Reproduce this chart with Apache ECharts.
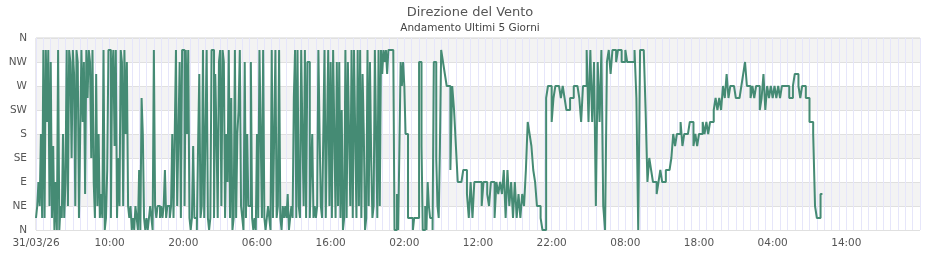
<!DOCTYPE html>
<html>
<head>
<meta charset="utf-8">
<script src="https://cdn.jsdelivr.net/npm/echarts@6/dist/echarts.min.js"></script>
<style>
html,body{margin:0;padding:0;background:#fff;}
#chart{width:940px;height:260px;}
</style>
</head>
<body>
<div id="chart"></div>
<script>
// Wind direction in compass points (0 = N, 2 = NE, 4 = E ... 16 = N)
var startDateLabel = '31/03/26';
var yLabels = ['N', 'NE', 'E', 'SE', 'S', 'SW', 'W', 'NW', 'N'];

// Part 1: hours 0 -> 55, one reading every 10 minutes
var part1Start = 0, part1StepHours = 1 / 6;
var dirDay1 = [
  1,2,4,2,8,1, 15,1,15,9,15,2, 14,1,7,0,4,0, 15,0,2,1,8,1, 4,15,2,15,14,6, 15,13,2,15,14,1,
  8,15,9,14,3,15, 11,15,14,6,15,4, 1,13,2,8,1,3, 1,15,0,1,5,15, 15,1,13,15,7,15, 1,6,2,15,14,2,
  15,8,14,2,1,2, 0,1,0,2,1,0, 5,0,11,8,1,0, 1,0,1,2,1,0, 15,2,1,2,2,1, 2,1,2,5,1,2,
  2,1,2,8,1,8, 15,2,8,14,1,15, 15,2,15,8,15,1, 0,1,7,1,1,0, 7,13,1,2,15,1, 8,15,1,0,1,15
];
var dirDay2 = [
  15,1,13,8,1,14, 15,2,15,14,1,8, 4,15,1,11,0,1, 15,1,8,10,15,2, 1,0,14,1,8,2, 2,14,1,0,1,0,
  8,1,15,8,1,15, 1,0,1,2,1,0, 15,1,8,15,1,2, 15,1,0,2,1,2, 1,3,0,1,2,1, 11,15,1,15,2,1,
  15,8,2,15,1,14, 14,1,5,8,1,2, 1,2,15,8,2,1, 8,15,1,8,15,2, 14,1,15,8,1,14, 2,14,1,10,0,1,
  15,1,14,8,2,15, 1,15,8,1,15,2, 15,1,13,8,0,1, 15,2,14,6,1,2, 15,8,1,15,2,15, 13,15,14,15,13,15
];
var dirDay3a = [
  15,15,15,15,0,0, 3,0,7,14,12,14, 12,8,8,1,1,1, 1,0,1,1,1,1, 14,14,7,0,0,2, 0,4,2,1,1,0,
  14,14,6,2,1,7
];

// Part 2: hours 55 -> 106.75, one reading every 15 minutes
var part2Start = 55, part2StepHours = 0.25;
var dirDay3b = [
  15,14,13,12, 12,5,12,10, 7,4,4,4, 5,5,3,1, 4,1,4,4, 4,4,2,4, 4,3,2,4, 4,1,4,3, 4,3,5,1,
  5,2,4,1, 4,1,3,1, 3,2,5,9, 8,7,5,4, 2,2,1,0, 0,11,12,12, 9,11,12,12, 12,11,12,11
];
var dirDay4 = [
  10,10,11,11, 12,12,12,11, 9,12,12,15, 9,15,9,14, 2,14,9,15, 2,0,14,15,
  13,15,15,14, 15,15,14,14, 15,14,14,14, 14,15,11,0, 15,15,15,10, 4,6,5,4,
  4,3,4,5, 4,4,5,5, 5,6,8,7, 8,8,9,7, 8,8,8,9, 9,7,8,7,
  8,8,9,8, 9,8,9,9, 10,11,10,11, 10,12,11,13, 11,12,12,12, 11,11,11,12
];
var dirDay5 = [
  13,14,12,12, 11,12,11,12, 12,10,11,13, 10,12,11,12, 11,12,11,12, 11,12,12,12,
  12,11,11,12, 13,13,12,11, 12,12,11,11, 9,9,8,2, 1,1,3,3
];

var part1 = dirDay1.concat(dirDay2, dirDay3a);
var part2 = dirDay3b.concat(dirDay4, dirDay5);
var seriesData = part1.map(function (v, i) { return [part1Start + i * part1StepHours, v]; })
  .concat(part2.map(function (v, i) { return [part2Start + i * part2StepHours, v]; }));

function pad(n) { return (n < 10 ? '0' : '') + n; }

var chart = echarts.init(document.getElementById('chart'), null, { renderer: 'canvas' });
chart.setOption({
  animation: false,
  textStyle: { fontFamily: 'DejaVu Sans' },
  title: {
    text: 'Direzione del Vento',
    subtext: 'Andamento Ultimi 5 Giorni',
    left: 'center',
    top: 1,
    itemGap: 4,
    textStyle: { fontFamily: 'DejaVu Sans', fontSize: 13, fontWeight: 'normal', color: '#555' },
    subtextStyle: { fontFamily: 'DejaVu Sans', fontSize: 10.5, color: '#444' }
  },
  grid: {
    left: 36, right: 20, top: 38, bottom: 30,
    show: true, borderColor: '#d4d4d4', borderWidth: 1, backgroundColor: 'transparent'
  },
  xAxis: {
    type: 'value',
    min: 0, max: 120, interval: 10,
    axisLine: { show: false },
    axisTick: { show: false },
    axisLabel: {
      color: '#555', fontSize: 10.5, fontFamily: 'DejaVu Sans', margin: 8,
      showMaxLabel: false,
      formatter: function (v) { return v === 0 ? startDateLabel : pad(v % 24) + ':00'; }
    },
    splitLine: { show: true, lineStyle: { color: '#e6e6fa', width: 1 } },
    minorTick: { show: false, splitNumber: 10 },
    minorSplitLine: { show: true, lineStyle: { color: '#e6e6fa', width: 1 } }
  },
  yAxis: {
    type: 'value',
    min: 0, max: 16, interval: 2,
    axisLine: { show: false },
    axisTick: { show: false },
    axisLabel: {
      color: '#555', fontSize: 10.5, fontFamily: 'DejaVu Sans', margin: 9,
      formatter: function (v) { return yLabels[v / 2]; }
    },
    splitLine: { show: true, lineStyle: { color: '#e0e0e0', width: 1 } },
    splitArea: { show: true, areaStyle: { color: ['#ffffff', '#f3f3f3'] } }
  },
  series: [{
    type: 'line',
    step: 'end',
    data: seriesData,
    showSymbol: false,
    lineStyle: { color: '#458b74', width: 2 },
    itemStyle: { color: '#458b74' }
  }]
});
</script>
</body>
</html>
